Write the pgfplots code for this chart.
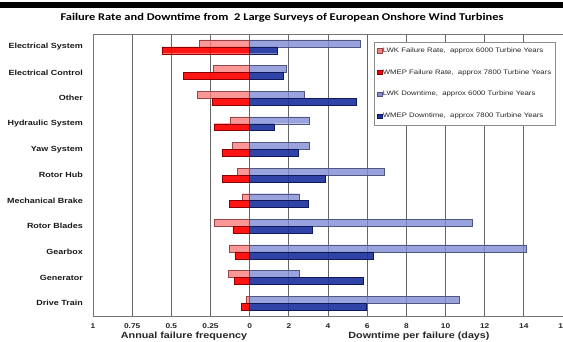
\documentclass[border=0pt]{standalone}
\usepackage{fontspec}
\setmainfont{Liberation Sans}
\newfontfamily\titlefont{Carlito}
\usepackage{graphicx}
\usepackage{pgfplots}
\usepackage{pgfplotstable}
\pgfplotsset{compat=1.18}

\definecolor{lwkrate}{RGB}{250,125,125}
\definecolor{lwkrateedge}{RGB}{150,70,70}
\definecolor{wmeprate}{RGB}{255,0,0}
\definecolor{wmeprateedge}{RGB}{140,0,0}
\definecolor{lwkdown}{RGB}{128,140,212}
\definecolor{lwkdownedge}{RGB}{80,85,130}
\definecolor{wmepdown}{RGB}{30,52,160}
\definecolor{wmepdownedge}{RGB}{15,25,90}

% failure rate (per turbine per year) and downtime per failure (days)
\pgfplotstableread{
idx lwkf  wmepf lwkd  wmepd
0   0.32  0.56  5.63  1.43
1   0.235 0.425 1.87  1.73
2   0.335 0.237 2.80  5.46
3   0.126 0.226 3.05  1.24
4   0.113 0.177 3.05  2.48
5   0.077 0.173 6.87  3.85
6   0.049 0.130 2.54  2.98
7   0.226 0.107 11.37 3.20
8   0.130 0.094 14.11 6.30
9   0.135 0.100 2.54  5.79
10  0.024 0.051 10.68 5.97
}\survey

\newcommand{\wide}[1]{\scalebox{1.2}[1]{#1}}

\begin{document}
\begin{tikzpicture}
\useasboundingbox (0bp,0bp) rectangle (563bp,342bp);
\fill[black] (0bp,334bp) rectangle (563bp,340bp);
\node[font=\titlefont\bfseries\fontsize{10.4}{12}\selectfont] at (282bp,324bp)
  {\wide{Failure Rate and Downtime from\ \ 2 Large Surveys of European Onshore Wind Turbines}};
\begin{axis}[
  at={(93bp,26bp)}, anchor=south west,
  scale only axis, width=470bp, height=282bp,
  xmin=-8, xmax=16, ymin=-0.5, ymax=10.5,
  y dir=reverse,
  xbar, bar width=0.27, bar shift=0pt,
  major tick length=0pt,
  xtick={-8,-6,-4,-2,0,2,4,6,8,10,12,14,16},
  xticklabels={\wide{1},\wide{0.75},\wide{0.5},\wide{0.25},\wide{0},\wide{2},\wide{4},\wide{6},\wide{8},\wide{10},\wide{12},\wide{14},\wide{16}},
  xticklabel style={font=\bfseries\fontsize{7}{8}\selectfont, inner sep=0pt, anchor=north, yshift=-7bp, text=black!85},
  ytick={0,...,10},
  yticklabels={\wide{Electrical System},\wide{Electrical Control},\wide{Other},\wide{Hydraulic System},\wide{Yaw System},\wide{Rotor Hub},\wide{Mechanical Brake},\wide{Rotor Blades},\wide{Gearbox},\wide{Generator},\wide{Drive Train}},
  yticklabel style={font=\bfseries\fontsize{7.5}{9}\selectfont, inner sep=0pt, anchor=east, xshift=-10bp, text=black!90},
  xmajorgrids,
  major grid style={black!60, line width=0.8bp},
  axis line style={black!55, line width=0.8bp},
  legend cell align=left,
  legend style={at={(0.598,0.973)}, anchor=north west, draw=black!45,
    fill=white, font=\fontsize{6.5}{7.5}\selectfont, text=black!85,
    row sep=14bp, inner xsep=3bp, inner ysep=5bp,
    nodes={inner sep=0.8bp}},
  sq legend/.style={legend image code/.code={\draw[##1, fill opacity=1] (0bp,-2.2bp) rectangle (4.4bp,2.2bp);}},
]
\addplot[fill=lwkrate, draw=lwkrateedge, line width=0.4bp, fill opacity=0.8, sq legend]
  table[x expr=-8*\thisrow{lwkf}, y expr=\thisrow{idx}-0.135]{\survey};
\addlegendentry{\wide{LWK Failure Rate,\ \ approx 6000 Turbine Years}}
\addplot[fill=wmeprate, draw=wmeprateedge, line width=0.4bp, fill opacity=0.92, sq legend]
  table[x expr=-8*\thisrow{wmepf}, y expr=\thisrow{idx}+0.135]{\survey};
\addlegendentry{\wide{WMEP Failure Rate,\ \ approx 7800 Turbine Years}}
\addplot[fill=lwkdown, draw=lwkdownedge, line width=0.4bp, fill opacity=0.8, sq legend]
  table[x=lwkd, y expr=\thisrow{idx}-0.135]{\survey};
\addlegendentry{\wide{LWK Downtime,\ \ approx 6000 Turbine Years}}
\addplot[fill=wmepdown, draw=wmepdownedge, line width=0.4bp, fill opacity=0.92, sq legend]
  table[x=wmepd, y expr=\thisrow{idx}+0.135]{\survey};
\addlegendentry{\wide{WMEP Downtime,\ \ approx 7800 Turbine Years}}
\end{axis}
\node[font=\bfseries\fontsize{9}{10}\selectfont, text=black!85] at (184bp,6bp) {\wide{Annual failure frequency}};
\node[font=\bfseries\fontsize{9}{10}\selectfont, text=black!85] at (419bp,6bp) {\wide{Downtime per failure (days)}};
\end{tikzpicture}
\end{document}
